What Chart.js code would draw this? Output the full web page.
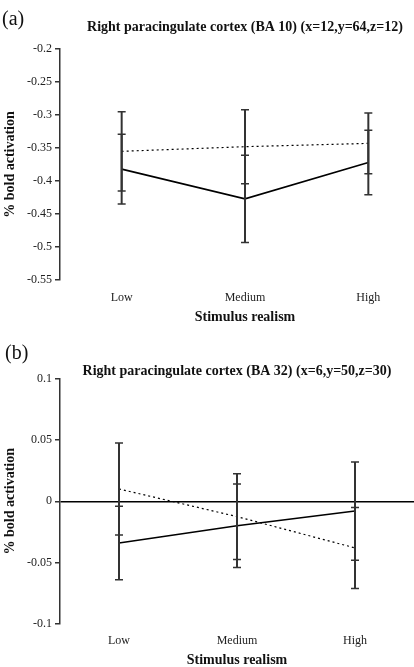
<!DOCTYPE html>
<html>
<head>
<meta charset="utf-8">
<script src="https://cdn.jsdelivr.net/npm/chart.js@4.4.1/dist/chart.umd.min.js"></script>
<style>
  html, body { margin: 0; padding: 0; background: #fff; overflow: hidden; }
  body { width: 414px; height: 667px; position: relative; font-family: "Liberation Serif", "Times New Roman", serif; }
  .panel { position: absolute; left: 0; width: 414px; overflow: hidden; }
  .tag { position: absolute; font-size: 20px; line-height: 1; color: #111; z-index: 2; }
</style>
</head>
<body>
<div class="panel" style="top:0; height:330px"><canvas id="chartA" width="430" height="330"></canvas></div>
<div class="panel" style="top:330px; height:337px"><canvas id="chartB" width="414" height="345"></canvas></div>
<div class="tag" style="left:2px; top:8px">(a)</div>
<div class="tag" style="left:5px; top:342px">(b)</div>

<script>
const categories = ['Low', 'Medium', 'High'];

// (a) BA 10
const solidA = [-0.382, -0.427, -0.372];
const solidErrA = [0.053, 0.066, 0.049];
const dottedA = [-0.355, -0.348, -0.343];
const dottedErrA = [0.060, 0.056, 0.046];
const ticksA = [-0.2, -0.25, -0.3, -0.35, -0.4, -0.45, -0.5, -0.55];

// (b) BA 32
const solidB = [-0.034, -0.020, -0.008];
const solidErrB = [0.030, 0.034, 0.040];
const dottedB = [0.010, -0.0125, -0.038];
const dottedErrB = [0.0375, 0.035, 0.033];
const ticksB = [0.1, 0.05, 0, -0.05, -0.1];

const serif = '"Liberation Serif", "Times New Roman", serif';

// draws +/- error bars for each point, using the y scale
const errorBars = {
  id: 'errorBars',
  afterDatasetsDraw(chart) {
    const ctx = chart.ctx;
    const yScale = chart.scales.y;
    chart.data.datasets.forEach((ds, i) => {
      const meta = chart.getDatasetMeta(i);
      ctx.save();
      ctx.strokeStyle = '#333';
      meta.data.forEach((pt, j) => {
        const top = yScale.getPixelForValue(ds.data[j] + ds.errors[j]);
        const bot = yScale.getPixelForValue(ds.data[j] - ds.errors[j]);
        ctx.lineWidth = 2;
        ctx.beginPath();
        ctx.moveTo(pt.x, top);
        ctx.lineTo(pt.x, bot);
        ctx.stroke();
        ctx.lineWidth = 1.5;
        ctx.beginPath();
        ctx.moveTo(pt.x - 4, top); ctx.lineTo(pt.x + 4, top);
        ctx.moveTo(pt.x - 4, bot); ctx.lineTo(pt.x + 4, bot);
        ctx.stroke();
      });
      ctx.restore();
    });
  }
};

function makeChart(id, cfg) {
  const zero = cfg.zeroLine;
  return new Chart(document.getElementById(id), {
    type: 'line',
    data: {
      labels: categories,
      datasets: [
        { data: cfg.solid, errors: cfg.solidErr, borderColor: '#000', borderWidth: 1.6, pointRadius: 0, tension: 0 },
        { data: cfg.dotted, errors: cfg.dottedErr, borderColor: '#000', borderWidth: 1.2, borderDash: [2, 3], pointRadius: 0, tension: 0 }
      ]
    },
    options: {
      responsive: false,
      devicePixelRatio: 1,
      animation: false,
      layout: { padding: 0 },
      plugins: {
        legend: { display: false },
        tooltip: { enabled: false },
        title: {
          display: true,
          text: cfg.title,
          fullSize: false,
          color: '#111',
          font: { family: serif, size: 14, weight: 'bold', lineHeight: 1 },
          padding: cfg.titlePad
        }
      },
      scales: {
        x: {
          type: 'category',
          offset: true,
          afterFit: s => { s.height = cfg.xHeight; },
          border: { display: false },
          grid: { display: false, drawTicks: false },
          ticks: { color: '#222', font: { family: serif, size: 12 }, padding: cfg.xTickPad, maxRotation: 0, autoSkip: false },
          title: {
            display: true,
            text: 'Stimulus realism',
            color: '#111',
            font: { family: serif, size: 14, weight: 'bold', lineHeight: 1 },
            padding: { top: 0, bottom: cfg.xTitlePad }
          }
        },
        y: {
          min: cfg.ticks[cfg.ticks.length - 1],
          max: cfg.ticks[0],
          afterBuildTicks: s => { s.ticks = cfg.ticks.map(v => ({ value: v })); },
          afterFit: s => { s.width = 60; },
          border: { display: true, color: '#333', width: 1.5 },
          grid: {
            drawOnChartArea: zero,
            color: c => (zero && c.tick && c.tick.value === 0) ? '#000' : 'rgba(0,0,0,0)',
            lineWidth: 1.5,
            tickColor: '#333',
            tickLength: 5
          },
          ticks: {
            color: '#222',
            font: { family: serif, size: 12 },
            padding: 3,
            callback: v => String(+(+v).toFixed(2))
          },
          title: {
            display: true,
            text: '% bold activation',
            color: '#111',
            font: { family: serif, size: 14, weight: 'bold', lineHeight: 1 },
            padding: { top: 3, bottom: 0 }
          }
        }
      }
    },
    plugins: [errorBars]
  });
}

makeChart('chartA', {
  title: 'Right paracingulate cortex (BA 10) (x=12,y=64,z=12)',
  solid: solidA, solidErr: solidErrA,
  dotted: dottedA, dottedErr: dottedErrA,
  ticks: ticksA,
  zeroLine: false,
  titlePad: { top: 20, bottom: 15 },
  xHeight: 50,
  xTickPad: 11,
  xTitlePad: 6
});

makeChart('chartB', {
  title: 'Right paracingulate cortex (BA 32) (x=6,y=50,z=30)',
  solid: solidB, solidErr: solidErrB,
  dotted: dottedB, dottedErr: dottedErrB,
  ticks: ticksB,
  zeroLine: true,
  titlePad: { top: 34.5, bottom: 0 },
  xHeight: 51,
  xTickPad: 9.5,
  xTitlePad: 8
});
</script>
</body>
</html>
